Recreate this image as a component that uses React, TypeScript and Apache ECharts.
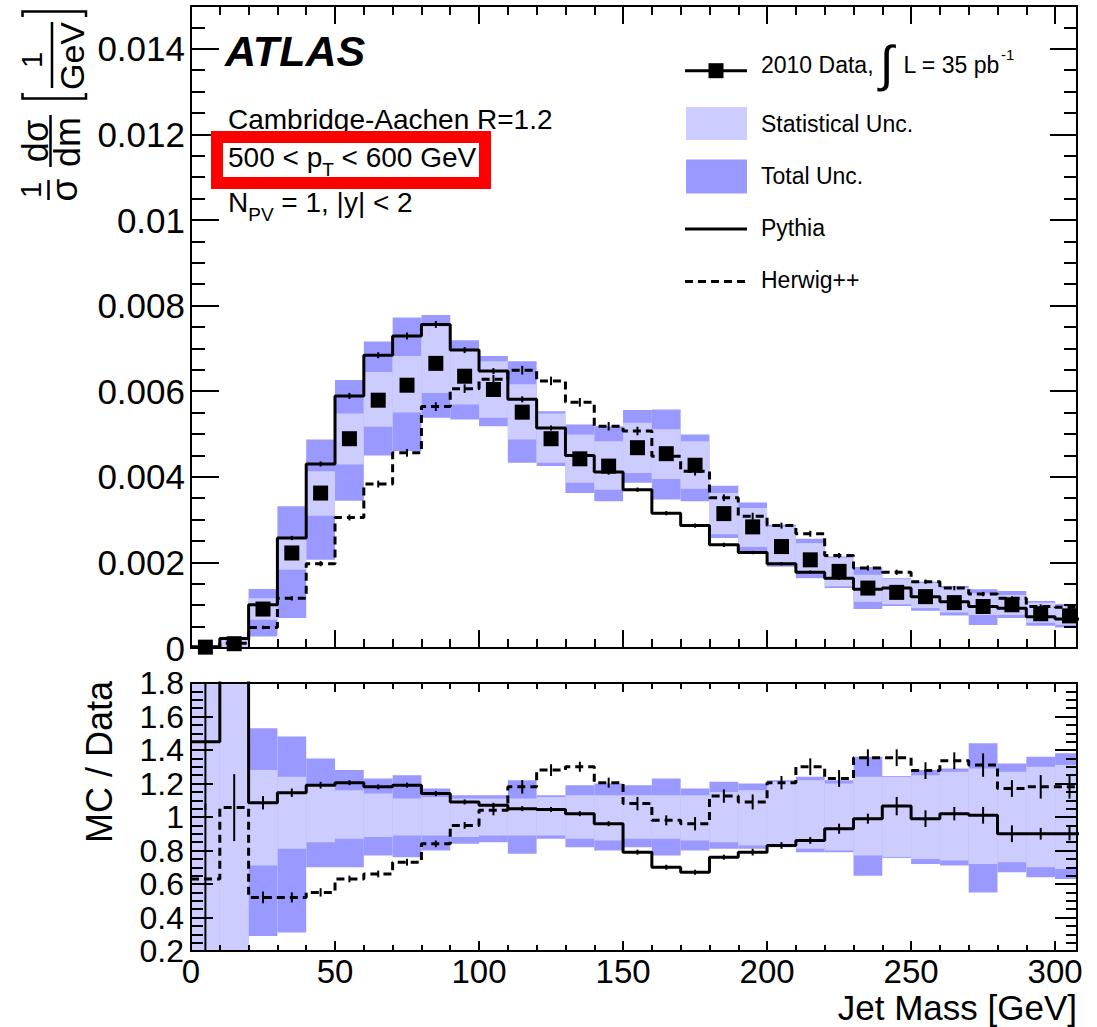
import React, { useEffect, useRef } from "react";
import * as echarts from "echarts";

// ---- binning (10 GeV jet-mass bins, centres) ----
const BIN_CENTERS = [5, 15, 25, 35, 45, 55, 65, 75, 85, 95, 105, 115, 125, 135, 145, 155, 165, 175, 185, 195, 205, 215, 225, 235, 245, 255, 265, 275, 285, 295, 305];
const BIN_HALF = 5;
const X_MAX = 307.6;

// ---- upper pad: 1/sigma dsigma/dm [1/GeV] ----
const DATA = [0.00002, 0.0001, 0.00091, 0.00222, 0.00362, 0.00489, 0.00579, 0.00614, 0.00665, 0.00635, 0.00604, 0.00551, 0.00489, 0.00442, 0.00425, 0.00468, 0.00454, 0.00427, 0.00314, 0.00283, 0.00237, 0.00206, 0.00179, 0.0014, 0.0013, 0.0012, 0.00106, 0.00097, 0.00101, 0.0008, 0.00075];
const PYTHIA = [0.00003, 0.00022, 0.00101, 0.00257, 0.0043, 0.00589, 0.00684, 0.00729, 0.00756, 0.00696, 0.00647, 0.00581, 0.00514, 0.0045, 0.00411, 0.0037, 0.00315, 0.00286, 0.00241, 0.00223, 0.00197, 0.00177, 0.00163, 0.00137, 0.0014, 0.0012, 0.00108, 0.00097, 0.00093, 0.00073, 0.00068];
const PYTHIA_ERR = [0.00001, 0.00003, 0.00004, 0.00005, 0.00006, 0.00007, 0.00007, 0.00008, 0.00008, 0.00007, 0.00007, 0.00007, 0.00006, 0.00006, 0.00006, 0.00005, 0.00005, 0.00005, 0.00005, 0.00004, 0.00004, 0.00004, 0.00004, 0.00004, 0.00004, 0.00004, 0.00004, 0.00004, 0.00004, 0.00003, 0.00003];
const HERWIG = [0.00001, 0.00011, 0.00048, 0.00116, 0.00197, 0.00305, 0.00383, 0.00456, 0.00564, 0.00606, 0.00628, 0.00649, 0.00624, 0.00574, 0.00518, 0.00507, 0.00448, 0.00413, 0.00351, 0.00308, 0.00286, 0.00267, 0.00216, 0.00187, 0.00177, 0.00155, 0.0014, 0.00126, 0.00116, 0.00097, 0.00095];
const HERWIG_ERR = [0.00001, 0.00003, 0.00004, 0.00005, 0.00006, 0.00007, 0.00008, 0.00009, 0.0001, 0.0001, 0.0001, 0.0001, 0.0001, 0.0001, 0.0001, 0.0001, 0.0001, 0.0001, 0.00008, 0.00008, 0.00007, 0.00007, 0.00006, 0.00006, 0.00006, 0.00005, 0.00005, 0.00005, 0.00005, 0.00005, 0.00005];
const STAT_LO = [0.0, 0.00001, 0.00066, 0.00183, 0.00309, 0.00429, 0.00517, 0.0055, 0.00596, 0.00569, 0.00538, 0.00487, 0.00433, 0.00386, 0.0037, 0.00409, 0.00395, 0.00372, 0.00266, 0.00236, 0.00198, 0.00175, 0.00144, 0.00108, 0.00102, 0.00093, 0.00083, 0.00077, 0.00077, 0.00059, 0.00054];
const STAT_HI = [0.00004, 0.00024, 0.00116, 0.00257, 0.00413, 0.00548, 0.00645, 0.00682, 0.00752, 0.00698, 0.0067, 0.00616, 0.00548, 0.00499, 0.00483, 0.00526, 0.00511, 0.00483, 0.00362, 0.00327, 0.00284, 0.00245, 0.00211, 0.00171, 0.00161, 0.00152, 0.0014, 0.00128, 0.00124, 0.00106, 0.00098];
const TOT_LO = [0.0, 0.0, 0.00027, 0.0007, 0.00206, 0.00344, 0.0045, 0.0046, 0.00538, 0.00534, 0.00518, 0.00433, 0.00425, 0.00362, 0.00343, 0.00386, 0.00347, 0.00343, 0.00257, 0.00226, 0.0019, 0.00163, 0.0014, 0.00091, 0.00098, 0.00087, 0.00076, 0.00054, 0.0007, 0.00052, 0.00048];
const TOT_HI = [0.00005, 0.00026, 0.00138, 0.00331, 0.00487, 0.00626, 0.00716, 0.00772, 0.00778, 0.00719, 0.00682, 0.0067, 0.00553, 0.00522, 0.00518, 0.00556, 0.00557, 0.00499, 0.00379, 0.0034, 0.00288, 0.00255, 0.00214, 0.00189, 0.00163, 0.00155, 0.00145, 0.00137, 0.00133, 0.0011, 0.00103];

// ---- lower pad: MC / Data ----
const RATIO_PYTHIA = [1.45, 2.3, 1.085, 1.145, 1.19, 1.205, 1.18, 1.19, 1.14, 1.09, 1.07, 1.05, 1.045, 1.02, 0.96, 0.79, 0.7, 0.67, 0.76, 0.79, 0.83, 0.86, 0.93, 0.99, 1.065, 0.99, 1.02, 1.01, 0.9, 0.9, 0.9];
const RATIO_PYTHIA_ERR = [0.41, 0.5, 0.04, 0.025, 0.02, 0.015, 0.015, 0.015, 0.015, 0.015, 0.015, 0.015, 0.015, 0.015, 0.015, 0.015, 0.015, 0.015, 0.015, 0.02, 0.02, 0.02, 0.03, 0.03, 0.055, 0.05, 0.04, 0.05, 0.05, 0.035, 0.04];
const RATIO_HERWIG = [0.63, 1.056, 0.52, 0.52, 0.55, 0.63, 0.66, 0.73, 0.84, 0.95, 1.04, 1.18, 1.28, 1.3, 1.205, 1.08, 0.98, 0.96, 1.125, 1.09, 1.205, 1.3, 1.23, 1.354, 1.354, 1.277, 1.336, 1.31, 1.17, 1.18, 1.18];
const RATIO_HERWIG_ERR = [0.45, 0.2, 0.035, 0.03, 0.025, 0.02, 0.02, 0.02, 0.02, 0.02, 0.03, 0.04, 0.035, 0.03, 0.03, 0.04, 0.03, 0.04, 0.04, 0.045, 0.04, 0.05, 0.05, 0.05, 0.05, 0.05, 0.05, 0.07, 0.05, 0.07, 0.07];
const RATIO_STAT_LO = [0, 0, 0.71, 0.81, 0.85, 0.87, 0.88, 0.89, 0.89, 0.88, 0.89, 0.89, 0.89, 0.87, 0.86, 0.87, 0.87, 0.86, 0.85, 0.83, 0.83, 0.81, 0.8, 0.77, 0.76, 0.75, 0.74, 0.72, 0.73, 0.7, 0.69];
const RATIO_STAT_HI = [3, 3, 1.28, 1.24, 1.19, 1.16, 1.14, 1.11, 1.12, 1.11, 1.11, 1.11, 1.12, 1.13, 1.13, 1.13, 1.13, 1.13, 1.15, 1.16, 1.21, 1.22, 1.2, 1.24, 1.24, 1.25, 1.27, 1.29, 1.27, 1.3, 1.31];
const RATIO_TOT_LO = [0, 0, 0.29, 0.31, 0.7, 0.7, 0.77, 0.76, 0.8, 0.84, 0.85, 0.78, 0.87, 0.82, 0.8, 0.82, 0.77, 0.8, 0.81, 0.81, 0.82, 0.79, 0.79, 0.65, 0.755, 0.72, 0.71, 0.55, 0.67, 0.64, 0.63];
const RATIO_TOT_HI = [3, 3, 1.53, 1.48, 1.35, 1.28, 1.23, 1.25, 1.17, 1.13, 1.13, 1.22, 1.13, 1.19, 1.2, 1.19, 1.23, 1.17, 1.21, 1.2, 1.22, 1.24, 1.22, 1.36, 1.245, 1.28, 1.29, 1.44, 1.32, 1.36, 1.38];

// ---- axis tick labels ----
const X_TICKS = [0, 50, 100, 150, 200, 250, 300];
const Y_TOP_TICKS = [0, 0.002, 0.004, 0.006, 0.008, 0.01, 0.012, 0.014];
const Y_RATIO_TICKS = [0.2, 0.4, 0.6, 0.8, 1, 1.2, 1.4, 1.6, 1.8];

const FONT = '"Liberation Sans", Arial, Helvetica, sans-serif';
const STAT_COLOR = "#ccccff";
const TOTAL_COLOR = "#9999ff";
const DASH = [8, 5];

const tickFormatter = (ticks: number[]) => (v: number) => {
  const hit = ticks.find((t) => Math.abs(t - v) < 1e-9);
  return hit === undefined ? "" : String(hit);
};

function bandSeries(xi: number, yi: number, lo: number[], hi: number[], color: string, z: number) {
  return {
    type: "custom",
    xAxisIndex: xi,
    yAxisIndex: yi,
    silent: true,
    z,
    encode: { x: [0, 1], y: [2, 3] },
    data: BIN_CENTERS.map((c, i) => [c - BIN_HALF, c + BIN_HALF, lo[i], hi[i]]),
    renderItem: (params: any, api: any) => {
      const a = api.coord([api.value(0), api.value(3)]);
      const b = api.coord([api.value(1), api.value(2)]);
      const cs = params.coordSys;
      const shape = echarts.graphic.clipRectByRect(
        { x: a[0], y: a[1], width: b[0] - a[0], height: b[1] - a[1] },
        { x: cs.x, y: cs.y, width: cs.width, height: cs.height }
      );
      if (!shape) return null;
      return { type: "rect", shape, style: { fill: color } };
    },
  };
}

function errorSeries(xi: number, yi: number, vals: number[], errs: number[]) {
  return {
    type: "custom",
    xAxisIndex: xi,
    yAxisIndex: yi,
    silent: true,
    z: 4,
    encode: { x: 0, y: [1, 2] },
    data: BIN_CENTERS.map((c, i) => [c, vals[i] - errs[i], vals[i] + errs[i]]),
    renderItem: (params: any, api: any) => {
      const lo = api.coord([api.value(0), api.value(1)]);
      const hi = api.coord([api.value(0), api.value(2)]);
      const cs = params.coordSys;
      const top = cs.y;
      const bot = cs.y + cs.height;
      if (lo[1] < top || hi[1] > bot) return null;
      return {
        type: "line",
        shape: { x1: lo[0], y1: Math.min(lo[1], bot), x2: hi[0], y2: Math.max(hi[1], top) },
        style: { stroke: "#000", lineWidth: 2 },
      };
    },
  };
}

function stepSeries(xi: number, yi: number, vals: number[], dashed: boolean) {
  const pts = BIN_CENTERS.map((c, i) => [c - BIN_HALF, vals[i]]);
  const last = BIN_CENTERS.length - 1;
  pts.push([BIN_CENTERS[last] + BIN_HALF, vals[last]]);
  return {
    type: "line",
    xAxisIndex: xi,
    yAxisIndex: yi,
    step: "end",
    clip: true,
    silent: true,
    symbol: "none",
    showSymbol: false,
    z: 3,
    data: pts,
    lineStyle: { color: "#000", width: 3, type: dashed ? DASH : "solid", opacity: 1 },
  };
}

function axisStyle(tickLen: number, minorLen: number, split: number) {
  return {
    type: "value",
    axisLine: { show: true, onZero: false, lineStyle: { color: "#000", width: 2 } },
    axisTick: { show: true, inside: true, length: tickLen, lineStyle: { color: "#000", width: 2 } },
    minorTick: { show: true, splitNumber: split, length: minorLen, lineStyle: { color: "#000", width: 2 } },
    splitLine: { show: false },
    minorSplitLine: { show: false },
    z: 10,
  };
}

function buildGraphics() {
  const ctx = document.createElement("canvas").getContext("2d") as CanvasRenderingContext2D;
  const tw = (s: string, size: number) => {
    ctx.font = `${size}px "Liberation Sans"`;
    return ctx.measureText(s).width;
  };
  const txt = (x: number, y: number, text: string, size: number, o: any = {}) => ({
    type: "text",
    x,
    y,
    rotation: o.rotation || 0,
    z: 20,
    silent: true,
    style: {
      text,
      fontSize: size,
      fontFamily: FONT,
      fontWeight: o.weight || "normal",
      fontStyle: o.italic ? "italic" : "normal",
      fill: "#000",
      align: o.align || "left",
      verticalAlign: "middle",
      textAlign: o.align || "left",
      textVerticalAlign: "middle",
    },
  });
  const seg = (x1: number, y1: number, x2: number, y2: number, w: number, dash?: number[]) => ({
    type: "line",
    z: 20,
    silent: true,
    shape: { x1, y1, x2, y2 },
    style: { stroke: "#000", lineWidth: w, lineDash: dash || null },
  });
  const g: any[] = [];

  // experiment label and selection text
  g.push(txt(225, 51, "ATLAS", 43, { weight: "bold", italic: true }));
  g.push(txt(228, 119.5, "Cambridge-Aachen R=1.2", 28));
  const p1 = "500 < p";
  const w1 = tw(p1, 28);
  g.push(txt(228, 157, p1, 28));
  g.push(txt(228 + w1, 169.5, "T", 19));
  g.push(txt(228 + w1 + tw("T", 19), 157, " < 600 GeV", 28));
  const wN = tw("N", 28);
  g.push(txt(228, 202.5, "N", 28));
  g.push(txt(228 + wN, 214, "PV", 19));
  g.push(txt(228 + wN + tw("PV", 19), 202.5, " = 1, |y| < 2", 28));
  g.push({
    type: "rect",
    z: 21,
    silent: true,
    shape: { x: 217, y: 137, width: 268, height: 46 },
    style: { fill: "none", stroke: "#ff0000", lineWidth: 12 },
  });

  // legend
  g.push(seg(685, 70.7, 747, 70.7, 3));
  g.push({ type: "rect", z: 21, silent: true, shape: { x: 708.5, y: 63.2, width: 15, height: 15 }, style: { fill: "#000" } });
  const dataLbl = "2010 Data,";
  const wd = tw(dataLbl, 23);
  g.push(txt(761, 64.7, dataLbl, 23));
  g.push(txt(761 + wd + 13, 64, "\u222B", 50, { align: "center" }));
  const lumi = "L = 35 pb";
  const lx = 761 + wd + 30;
  g.push(txt(lx, 64.7, lumi, 23));
  g.push(txt(lx + tw(lumi, 23) + 1, 54, "-1", 15));
  g.push({ type: "rect", z: 20, silent: true, shape: { x: 686, y: 107, width: 61, height: 33 }, style: { fill: STAT_COLOR } });
  g.push(txt(761, 123.5, "Statistical Unc.", 23));
  g.push({ type: "rect", z: 20, silent: true, shape: { x: 686, y: 159.5, width: 61, height: 34 }, style: { fill: TOTAL_COLOR } });
  g.push(txt(761, 176, "Total Unc.", 23));
  g.push(seg(685, 229, 747, 229, 3));
  g.push(txt(761, 228, "Pythia", 23));
  g.push(seg(685, 281.5, 747, 281.5, 3, DASH));
  g.push(txt(761, 280, "Herwig++", 23));

  // axis titles
  const R = Math.PI / 2;
  g.push(txt(1077, 1007.5, "Jet Mass [GeV]", 35, { align: "right" }));
  g.push(txt(99, 762, "MC / Data", 36, { rotation: R, align: "center" }));
  // (1/sigma) (dsigma/dm) [1/GeV], read bottom to top
  g.push(txt(31, 190, "1", 29, { rotation: R, align: "center" }));
  g.push(seg(48.5, 180, 48.5, 200, 2.5));
  g.push(txt(64, 190, "\u03C3", 37, { rotation: R, align: "center" }));
  g.push(txt(35, 141, "d\u03C3", 36, { rotation: R, align: "center" }));
  g.push(seg(50.5, 115, 50.5, 167, 2.5));
  g.push(txt(67.5, 142, "dm", 36, { rotation: R, align: "center" }));
  g.push({
    type: "polyline", z: 20, silent: true,
    shape: { points: [[22.5, 93], [22.5, 98.5], [86, 98.5], [86, 93]] },
    style: { stroke: "#000", lineWidth: 2.5, fill: "none" },
  });
  g.push({
    type: "polyline", z: 20, silent: true,
    shape: { points: [[22.5, 17], [22.5, 11.5], [86, 11.5], [86, 17]] },
    style: { stroke: "#000", lineWidth: 2.5, fill: "none" },
  });
  g.push(txt(32, 60, "1", 29, { rotation: R, align: "center" }));
  g.push(seg(52, 22, 52, 88, 2.5));
  g.push(txt(72, 56, "GeV", 34, { rotation: R, align: "center" }));
  return g;
}

function buildOption() {
  const xBase = { min: 0, max: X_MAX, interval: 50 };
  return {
    animation: false,
    backgroundColor: "#fff",
    grid: [
      { left: 191, top: 6, width: 886, height: 642 },
      { left: 191, top: 683, width: 886, height: 268 },
    ],
    xAxis: [
      { ...axisStyle(18, 9, 5), ...xBase, gridIndex: 0, position: "bottom", axisLabel: { show: false } },
      { ...axisStyle(18, 9, 5), ...xBase, gridIndex: 0, position: "top", axisLabel: { show: false } },
      {
        ...axisStyle(10, 6, 5), ...xBase, gridIndex: 1, position: "bottom",
        axisLabel: { show: true, fontSize: 33, fontFamily: FONT, color: "#000", margin: 4, formatter: tickFormatter(X_TICKS) },
      },
      { ...axisStyle(9, 6, 5), ...xBase, gridIndex: 1, position: "top", axisLabel: { show: false } },
    ],
    yAxis: [
      {
        ...axisStyle(28, 14, 4), gridIndex: 0, position: "left", min: 0, max: 0.015, interval: 0.002,
        axisLabel: { show: true, fontSize: 35, fontFamily: FONT, color: "#000", margin: 6, formatter: tickFormatter(Y_TOP_TICKS) },
      },
      { ...axisStyle(27, 13, 4), gridIndex: 0, position: "right", min: 0, max: 0.015, interval: 0.002, axisLabel: { show: false } },
      {
        ...axisStyle(22, 12, 4), gridIndex: 1, position: "left", min: 0.2, max: 1.8, interval: 0.2,
        axisLabel: { show: true, fontSize: 32, fontFamily: FONT, color: "#000", margin: 7, formatter: tickFormatter(Y_RATIO_TICKS) },
      },
      { ...axisStyle(22, 11, 4), gridIndex: 1, position: "right", min: 0.2, max: 1.8, interval: 0.2, axisLabel: { show: false } },
    ],
    series: [
      bandSeries(0, 0, TOT_LO, TOT_HI, TOTAL_COLOR, 1),
      bandSeries(0, 0, STAT_LO, STAT_HI, STAT_COLOR, 2),
      stepSeries(0, 0, PYTHIA, false),
      stepSeries(0, 0, HERWIG, true),
      errorSeries(0, 0, PYTHIA, PYTHIA_ERR),
      errorSeries(0, 0, HERWIG, HERWIG_ERR),
      {
        type: "scatter",
        xAxisIndex: 0,
        yAxisIndex: 0,
        symbol: "rect",
        symbolSize: 15,
        silent: true,
        z: 5,
        itemStyle: { color: "#000", opacity: 1 },
        data: BIN_CENTERS.map((c, i) => [c, DATA[i]]),
      },
      bandSeries(2, 2, RATIO_TOT_LO, RATIO_TOT_HI, TOTAL_COLOR, 1),
      bandSeries(2, 2, RATIO_STAT_LO, RATIO_STAT_HI, STAT_COLOR, 2),
      stepSeries(2, 2, RATIO_PYTHIA, false),
      stepSeries(2, 2, RATIO_HERWIG, true),
      errorSeries(2, 2, RATIO_PYTHIA, RATIO_PYTHIA_ERR),
      errorSeries(2, 2, RATIO_HERWIG, RATIO_HERWIG_ERR),
    ],
    graphic: buildGraphics(),
  };
}

export default function App() {
  const ref = useRef<HTMLDivElement>(null);
  useEffect(() => {
    if (!ref.current) return;
    const chart = echarts.init(ref.current, null, { renderer: "svg" });
    chart.setOption(buildOption() as any);
    return () => chart.dispose();
  }, []);
  return (
    <div
      ref={ref}
      style={{ position: "absolute", left: 0, top: 0, width: 1097, height: 1027, background: "#fff" }}
    />
  );
}
